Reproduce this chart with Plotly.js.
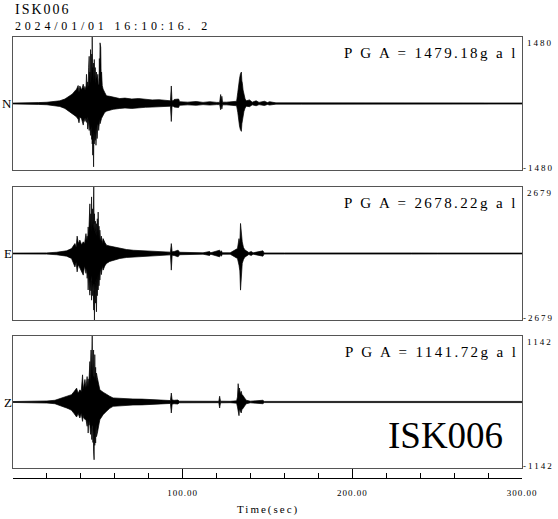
<!DOCTYPE html>
<html>
<head>
<meta charset="utf-8">
<script src="https://cdn.plot.ly/plotly-3.0.1.min.js"></script>
<style>
html,body{margin:0;padding:0;background:#fff;}
#chart{width:558px;height:519px;}
</style>
</head>
<body>
<div id="chart"></div>
<script>
// ---- data ----
const station = 'ISK006';
const startTime = '2024/01/01 16:10:16. 2';
const channels = ['N', 'E', 'Z'];
const pgaValues = ['1479.18', '2678.22', '1141.72'];
const rangeMax = [1480, 2679, 1142];
const timeTickVals = [0, 100, 200, 300];
const timeTickText = ['', '100.00', '200.00', '300.00'];
const timeTitle = 'Time(sec)';

// envelope samples: [time (s), upper peak (gal), lower peak (gal)]
const envN = [
[0,10,-10],[12,10,-10],[15,20,-20],[20,28,-28],[24.7,45,-45],[27.6,60,-66],[30.6,100,-110],
[33.5,170,-180],[35,210,-230],[36.5,280,-270],[37.5,320,-300],[38.4,400,-350],[38.9,250,-430],
[39.4,390,-300],[40.4,300,-340],[41.4,430,-480],[42.0,300,-320],[42.4,380,-400],[43.0,300,-330],
[43.3,650,-420],[43.7,350,-300],[44.0,480,-570],[44.3,380,-350],[44.6,800,-520],[44.9,1050,-600],
[45.1,500,-400],[45.3,700,-560],[45.5,450,-450],[45.7,1200,-710],[46.0,600,-640],[46.2,550,-500],
[46.4,1100,-800],[46.55,500,-600],[46.7,1480,-900],[46.85,600,-700],[47.0,800,-1150],[47.2,500,-600],
[47.5,900,-1410],[47.7,500,-600],[47.9,980,-900],[48.2,500,-640],[48.5,800,-820],[48.7,450,-500],
[48.9,650,-930],[49.2,700,-500],[49.6,500,-780],[50.0,650,-460],[50.3,450,-500],[50.5,800,-600],
[50.7,400,-400],[50.9,1000,-500],[51.1,500,-350],[51.3,1350,-450],[51.5,600,-400],[51.7,1250,-380],
[52.0,500,-330],[52.2,700,-330],[52.6,400,-300],[53.1,320,-250],[54.0,250,-200],
[55.1,170,-170],[57,160,-150],[59,140,-130],[62.9,110,-110],[66,120,-100],[70,100,-110],[74,110,-90],
[78,90,-85],[82,80,-80],[86,85,-70],[90,70,-60],[92.8,60,-60],[93.3,390,-400],[93.7,80,-80],
[94.2,50,-50],[95,90,-80],[97.6,100,-90],[98.2,40,-40],[103,30,-30],[108,45,-40],[112,25,-25],
[116,40,-35],[120,25,-25],[121.8,25,-25],[122.4,200,-140],[122.8,50,-40],[123.1,160,-120],
[123.5,30,-30],[126,30,-30],[131.8,50,-50],[132.5,250,-200],[133.0,450,-400],[133.5,550,-500],
[134.0,650,-580],[134.6,700,-620],[134.9,500,-450],[135.2,450,-380],[135.6,300,-250],[136.1,200,-180],
[136.8,100,-100],[137.5,60,-60],[139.4,80,-70],[141,30,-30],[143.3,60,-50],[145,25,-25],[148.2,50,-45],
[150,20,-20],[151.2,40,-35],[155,14,-14],[170,14,-14],[185,18,-14],[200,14,-14],[215,16,-14],
[230,14,-14],[245,18,-16],[260,14,-12],[275,14,-12],[290,12,-12],[300,12,-12]
];
const envE = [
[0,18,-18],[15,18,-18],[19.8,25,-25],[25.7,50,-50],[31.6,107,-107],[34.5,200,-200],[36.5,400,-540],
[37.2,250,-350],[37.8,700,-740],[38.5,400,-450],[39.4,540,-600],[40.4,350,-700],[41.4,470,-870],
[42.2,400,-500],[43.0,800,-800],[43.4,500,-600],[43.7,700,-1000],[44.0,500,-700],[44.3,1070,-1470],
[44.6,700,-800],[44.8,1500,-1200],[45.05,800,-900],[45.3,2000,-1680],[45.55,900,-1000],[45.8,1600,-1500],
[46.05,900,-900],[46.3,2280,-1880],[46.55,1000,-1100],[46.8,1800,-1700],[47.2,1000,-1200],
[47.6,2679,-2280],[47.8,1200,-1500],[48.0,1600,-2679],[48.3,900,-1200],[48.6,1300,-2000],
[48.9,800,-1100],[49.2,1200,-2350],[49.45,700,-1000],[49.7,1400,-1700],[49.95,700,-900],
[50.2,1670,-1470],[50.45,600,-800],[50.7,1100,-1300],[51.0,500,-700],[51.2,940,-1070],[51.6,500,-600],
[52.1,700,-850],[52.6,400,-500],[53.1,600,-670],[54.1,450,-500],[55.1,335,-400],
[57,300,-320],[59,270,-270],[63,200,-200],[66.9,160,-160],[71,130,-140],[76.7,107,-107],[81,80,-90],
[86.5,67,-67],[90,60,-60],[92.8,55,-55],[93.3,400,-670],[93.8,70,-70],[95,80,-80],[97.3,134,-134],
[98.2,50,-50],[103,35,-35],[108,40,-40],[112,28,-28],[115.9,80,-80],[116.5,28,-28],[121.8,134,-134],
[122.3,50,-50],[122.8,110,-110],[123.4,30,-30],[128,28,-28],[132.3,200,-200],[133.2,600,-470],
[133.7,400,-700],[134.1,1210,-1475],[134.6,700,-800],[135.1,470,-400],[135.8,250,-250],[136.5,160,-160],
[137.5,107,-107],[139,40,-40],[140.4,80,-80],[141.5,28,-28],[147.3,107,-107],[148,22,-22],[160,22,-22],
[175,28,-28],[190,22,-22],[205,28,-28],[220,22,-22],[235,22,-22],[250,20,-20],[265,24,-24],
[280,18,-18],[300,18,-18]
];
const envZ = [
[0,8,-8],[14.9,8,-8],[20,18,-18],[24.7,30,-30],[28,60,-60],[31.6,100,-104],[33,110,-120],
[34.5,127,-144],[36,180,-200],[37.5,240,-260],[38.4,150,-200],[39.4,210,-277],[40.2,180,-200],
[41.0,470,-335],[41.4,220,-220],[41.7,300,-280],[42.4,390,-300],[43.0,250,-305],[43.7,440,-420],
[44.0,260,-300],[44.3,400,-537],[44.6,260,-300],[44.8,550,-400],[45.05,300,-300],[45.3,700,-480],
[45.5,350,-350],[45.7,550,-560],[46.0,900,-500],[46.2,450,-400],[46.4,800,-650],[46.55,450,-400],
[46.7,1142,-600],[46.9,450,-450],[47.1,850,-700],[47.3,450,-450],[47.5,900,-850],[47.65,450,-450],
[47.8,700,-1000],[48.0,400,-450],[48.2,820,-750],[48.45,400,-400],[48.7,600,-710],[48.95,350,-400],
[49.2,500,-600],[49.7,420,-540],[50.2,330,-480],[50.7,260,-380],[51.2,210,-305],[53.1,170,-220],
[55.1,127,-160],[57,100,-110],[59,70,-75],[64,60,-60],[70.7,52,-52],[76,50,-50],[81,45,-45],
[86.5,40,-40],[90,30,-30],[92.8,25,-25],[93.3,155,-190],[93.8,35,-35],[95,30,-30],[97.2,35,-35],
[98,14,-14],[105,14,-14],[115,12,-12],[121.3,12,-12],[121.8,100,-104],[122.3,14,-14],[128,12,-12],
[131.8,20,-20],[132.3,87,-87],[132.7,317,-150],[133.2,150,-237],[133.5,242,-120],[134.0,140,-160],
[134.5,185,-190],[135.0,120,-120],[135.5,115,-115],[136.5,70,-70],[137.5,30,-30],[140,14,-14],
[147.3,30,-30],[148,10,-10],[165,10,-10],[180,13,-10],[200,10,-10],[225,10,-10],[250,13,-13],
[275,10,-10],[300,10,-10]
];
const envelopes = [envN, envE, envZ];

// ---- layout geometry (pixels of the 558x519 picture) ----
const W = 558, H = 519;
const X0 = 13, X1 = 522;
const panels = [[37, 170], [187, 320], [336, 468]];
const axisLineY = 478;
const px = v => v / W;
const py = v => (H - v) / H;
const FONT = '"Liberation Serif", "Times New Roman", Times, "DejaVu Serif", serif';
const ls = (t, s) => '<span style="letter-spacing:' + s + 'px">' + t + '</span>';

const data = [];
const layout = {
  width: W, height: H,
  margin: {l: 0, r: 0, t: 0, b: 0},
  paper_bgcolor: '#fff', plot_bgcolor: '#fff',
  showlegend: false,
  font: {family: FONT, color: '#000'},
  annotations: []
};

envelopes.forEach((env, i) => {
  const n = i + 1;
  const key = n === 1 ? '' : n;
  const t = env.map(r => r[0]);
  data.push({x: t, y: env.map(r => r[1]), xaxis: 'x' + key, yaxis: 'y' + key, type: 'scatter', mode: 'lines',
    line: {color: '#000', width: 0.7}, hoverinfo: 'skip'});
  data.push({x: t, y: env.map(r => r[2]), xaxis: 'x' + key, yaxis: 'y' + key, type: 'scatter', mode: 'lines',
    fill: 'tonexty', fillcolor: '#000', line: {color: '#000', width: 0.7}, hoverinfo: 'skip'});
  const [top, bot] = panels[i];
  layout['xaxis' + key] = {domain: [px(X0), px(X1)], range: [0, 300], anchor: 'y' + key,
    showticklabels: false, ticks: '', showgrid: false, zeroline: false,
    showline: true, mirror: true, linecolor: '#555', linewidth: 1, fixedrange: true};
  layout['yaxis' + key] = {domain: [py(bot), py(top)], range: [-rangeMax[i], rangeMax[i]], anchor: 'x' + key,
    showticklabels: false, ticks: '', showgrid: false, zeroline: false,
    showline: true, mirror: true, linecolor: '#555', linewidth: 1, fixedrange: true};
  const mid = (top + bot) / 2;
  layout.annotations.push(
    {text: channels[i], x: px(14), y: py(mid), xref: 'paper', yref: 'paper', xanchor: 'right', yanchor: 'middle',
      showarrow: false, font: {family: FONT, size: 13}},
    {text: ls('P G A = ' + pgaValues[i] + 'g a l', 2.4), x: px(520), y: py(top + 16), xref: 'paper', yref: 'paper',
      xanchor: 'right', yanchor: 'middle', showarrow: false, font: {family: FONT, size: 15}},
    {text: ls(String(rangeMax[i]), 2), x: px(525), y: py(top + 6), xref: 'paper', yref: 'paper',
      xanchor: 'left', yanchor: 'middle', showarrow: false, font: {family: FONT, size: 9}},
    {text: ls('-' + rangeMax[i], 2), x: px(521), y: py(bot - 2), xref: 'paper', yref: 'paper',
      xanchor: 'left', yanchor: 'middle', showarrow: false, font: {family: FONT, size: 9}}
  );
});

// bottom time axis
layout.xaxis4 = {domain: [px(X0), px(X1)], range: [0, 300], anchor: 'y4', side: 'bottom',
  tickmode: 'array', tickvals: timeTickVals, ticktext: timeTickText.map(s => ls(s, 1)),
  ticks: 'inside', ticklen: 9, tickwidth: 1, tickcolor: '#000',
  minor: {tickmode: 'linear', tick0: 0, dtick: 20, ticks: 'inside', ticklen: 5, tickwidth: 1, tickcolor: '#000', showgrid: false},
  tickfont: {family: FONT, size: 9, color: '#000'}, ticklabelstandoff: 6,
  showgrid: false, zeroline: false, showline: true, linecolor: '#000', linewidth: 1, fixedrange: true};
layout.yaxis4 = {domain: [py(axisLineY), py(axisLineY - 1)], range: [0, 1], anchor: 'x4', visible: false, fixedrange: true};
data.push({x: [0, 300], y: [2, 2], xaxis: 'x4', yaxis: 'y4', type: 'scatter', mode: 'lines',
  line: {width: 0}, hoverinfo: 'skip'});

layout.annotations.push(
  {text: ls(station, 2), x: px(13), y: py(10), xref: 'paper', yref: 'paper', xanchor: 'left', yanchor: 'middle',
    showarrow: false, font: {family: FONT, size: 14}},
  {text: ls(startTime, 3.8), x: px(13), y: py(26), xref: 'paper', yref: 'paper', xanchor: 'left', yanchor: 'middle',
    showarrow: false, font: {family: FONT, size: 12}},
  {text: station, x: px(505), y: py(435), xref: 'paper', yref: 'paper', xanchor: 'right', yanchor: 'middle',
    showarrow: false, font: {family: FONT, size: 37}},
  {text: ls(timeTitle, 2), x: px(268), y: py(509), xref: 'paper', yref: 'paper', xanchor: 'center', yanchor: 'middle',
    showarrow: false, font: {family: FONT, size: 11}}
);

Plotly.newPlot('chart', data, layout, {displayModeBar: false, staticPlot: true});
</script>
</body>
</html>
